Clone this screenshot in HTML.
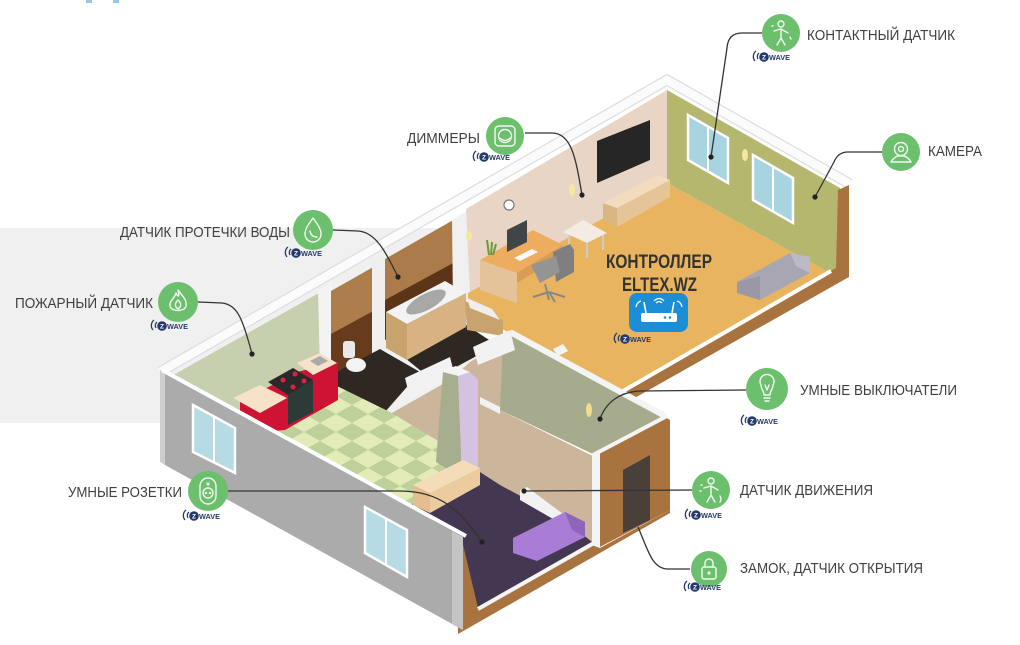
<!DOCTYPE html>
<html><head><meta charset="utf-8"><style>
html,body{margin:0;padding:0;background:#fff;}
svg{display:block;}
text{font-family:"Liberation Sans","DejaVu Sans",sans-serif;}
</style></head><body>
<svg width="1020" height="645" viewBox="0 0 1020 645" xmlns="http://www.w3.org/2000/svg">
<defs>
<pattern id="tiles" width="32" height="18" patternUnits="userSpaceOnUse">
<rect width="32" height="18" fill="#bfd19a"/>
<polygon points="16,0 32,9 16,18 0,9" fill="#e3ebb9"/>
</pattern>
</defs>
<rect width="1020" height="645" fill="#fff"/>
<rect x="0" y="228" width="480" height="195" fill="#f0f0f0"/>
<rect x="86" y="0" width="6" height="3" fill="#9cc3ea"/>
<rect x="113" y="0" width="6" height="3" fill="#9cc3ea"/>

<!-- main wall cap -->
<polyline points="160,372 667,80 850,184" fill="none" stroke="#dedede" stroke-width="11" stroke-linejoin="miter"/>
<polyline points="160,372 667,80 850,184" fill="none" stroke="#fbfbfb" stroke-width="8.5" stroke-linejoin="miter"/>

<!-- kitchen wall -->
<polygon points="168,378 326,289 332,370 250,420 168,382" fill="#c6cfae"/>
<polygon points="318,290 332,284 334,366 320,372" fill="#f3f3f3"/>

<!-- bathroom walls -->
<polygon points="331,291 375,266 375,352 331,378" fill="#ad7d4c"/>
<polygon points="331,334 375,310 375,352 331,378" fill="#673c1d"/>
<polygon points="372,263 386,257 386,352 372,358" fill="#efefef"/>
<polygon points="385,259 455,219 455,302 385,335" fill="#ac7b4a"/>
<polygon points="385,300 455,262 455,302 385,340" fill="#5c3519"/>
<polygon points="452,220 467,211 469,300 453,302" fill="#f0f0f0"/>

<!-- living room walls -->
<polygon points="466,209 667,90 667,183 470,293" fill="#e9d5c6"/>
<polygon points="667,90 840,188 840,268 828,272 667,183" fill="#b4b76d"/>
<polygon points="688,115 728,138 728,183 688,160" fill="#a8d4e0" stroke="#fff" stroke-width="2.5"/>
<line x1="708" y1="126" x2="708" y2="171" stroke="#fff" stroke-width="2"/>
<polygon points="753,155 793,178 793,223 753,200" fill="#a8d4e0" stroke="#fff" stroke-width="2.5"/>
<line x1="773" y1="166" x2="773" y2="211" stroke="#fff" stroke-width="2"/>
<polygon points="597,141 650,120 650,160 597,183" fill="#262626"/>
<circle cx="509" cy="205" r="5" fill="#fff" stroke="#777" stroke-width="1.2"/>
<ellipse cx="572" cy="190" rx="3" ry="6" fill="#f6e7a0"/>
<ellipse cx="469" cy="236" rx="3" ry="5" fill="#f6e7a0"/>
<ellipse cx="745" cy="155" rx="3" ry="6" fill="#f6e7a0"/>

<!-- brown right band + orange floor -->
<polygon points="838,190 849,185 849,277 624,404 614,396 836,268" fill="#a8733f"/>
<polygon points="468,293 667,183 828,272 620,393 513,335 468,310" fill="#e9b45f"/>
<line x1="831" y1="271" x2="618" y2="394" stroke="#fff" stroke-width="4"/>

<!-- bathroom floor / bath -->
<polygon points="333,374 380,349 420,372 385,412 333,388" fill="#2f2722"/>
<polygon points="405,358 466,325 497,345 432,380" fill="#2f2722"/>
<polygon points="386,312 407,324 407,360 386,348" fill="#c9a36e"/>
<polygon points="407,324 466,293 466,327 407,360" fill="#d7b384"/>
<polygon points="386,312 445,281 466,293 407,324" fill="#f3f3f3"/>
<ellipse cx="426" cy="302" rx="22" ry="8" transform="rotate(-28 426 302)" fill="#a8a8a8"/>
<polygon points="465,301 503,320 503,336 467,330" fill="#c9a36e"/>
<polygon points="467,298 492,309 500,320 470,308" fill="#eee"/>
<ellipse cx="356" cy="365" rx="10" ry="7" fill="#f4f4f4"/>
<rect x="343" y="341" width="12" height="17" rx="3" fill="#e9e9e9"/>

<!-- hallway floor -->
<polygon points="383,418 450,380 470,362 505,342 500,410 597,458 598,548 590,543 520,500 470,470 430,490 383,440" fill="#cbb59b"/>
<polygon points="503,340 512,333 665,416 595,455 500,410" fill="#a5ab8c"/>
<line x1="510" y1="332" x2="665" y2="416" stroke="#f4f4f4" stroke-width="6"/>
<polygon points="553,349 563,344 568,351 558,356" fill="#f4f4f4"/>
<ellipse cx="589" cy="410" rx="3" ry="7" fill="#f1dc8a"/>
<polygon points="405,378 450,357 455,377 410,398" fill="#f2f2f2"/>
<polygon points="473,347 510,330 515,350 478,365" fill="#f2f2f2"/>
<polygon points="405,425 440,443 440,452 405,434" fill="#f2f2f2"/>
<polygon points="480,397 500,407 500,414 480,404" fill="#f2f2f2"/>

<!-- kitchen tiles -->
<polygon points="240,420 335,385 390,412 470,460 430,520 240,432" fill="url(#tiles)"/>

<!-- kitchen counters -->
<polygon points="240,402 297,372 338,362 338,400 285,430 262,432 240,418" fill="#cf1335"/>
<polygon points="233,398 260,385 287,398 260,413" fill="#f6e2c9"/>
<polygon points="268,382 293,368 313,380 288,395" fill="#2a2a2a"/>
<circle cx="283" cy="380" r="2.5" fill="#e02040"/><circle cx="295" cy="374" r="2.5" fill="#e02040"/>
<circle cx="293" cy="387" r="2.5" fill="#e02040"/><circle cx="304" cy="381" r="2.5" fill="#e02040"/>
<polygon points="288,395 313,380 313,412 288,425" fill="#2d3b38"/>
<polygon points="297,363 320,353 337,363 313,375" fill="#f6e2c9"/>
<polygon points="310,361 320,356 328,361 318,366" fill="#aaa"/>

<!-- partition pillar -->
<polygon points="443,372 458,376 462,478 436,462" fill="#a7ad8f"/>
<polygon points="458,376 470,372 478,380 478,475 462,478" fill="#d3c2e0"/>
<polygon points="443,370 456,366 470,372 458,376" fill="#f4f4f4"/>

<!-- lower right brown, door wall -->
<polygon points="456,538 470,535 480,608 592,545 600,548 670,510 670,513 458,634" fill="#a8733f"/>
<polygon points="595,455 665,417 670,420 670,510 598,548" fill="#a8733f"/>
<polygon points="623,470 650,455 650,520 623,533" fill="#4a403a"/>
<line x1="593" y1="455" x2="667" y2="416" stroke="#f4f4f4" stroke-width="4"/>
<polygon points="592,455 600,452 600,548 592,545" fill="#f4f4f4"/>

<!-- bedroom -->
<polygon points="410,505 480,472 500,485 565,520 592,542 478,608 462,540" fill="#433752"/>
<line x1="478" y1="609" x2="594" y2="543" stroke="#f4f4f4" stroke-width="4"/>
<polygon points="520,490 527,487 567,517 567,527 520,500" fill="#f2f2f2"/>
<polygon points="413,485 430,493 430,513 413,505" fill="#e4be8d"/>
<polygon points="430,493 480,468 480,485 430,513" fill="#eccb9f"/>
<polygon points="413,485 463,460 480,468 430,493" fill="#f4dcb8"/>
<polygon points="513,538 565,512 585,522 585,537 537,561 513,553" fill="#a97cd6"/>
<polygon points="565,512 585,522 585,537 572,530" fill="#8c66b8"/>

<!-- front gray wall -->
<polygon points="165,372 463,537 463,630 165,465" fill="#ababab"/>
<polygon points="452,531 463,537 463,630 452,624" fill="#c4c4c4"/>
<polygon points="160,370 165,372 165,465 160,462" fill="#cfcfcf"/>
<line x1="162" y1="370" x2="466" y2="536" stroke="#fff" stroke-width="4"/>
<polygon points="193,405 235,428 235,473 193,452" fill="#b6dbe5" stroke="#fff" stroke-width="2.5"/>
<line x1="214" y1="416" x2="214" y2="462" stroke="#fff" stroke-width="2"/>
<polygon points="365,507 407,530 407,577 365,553" fill="#b6dbe5" stroke="#fff" stroke-width="2.5"/>
<line x1="386" y1="518" x2="386" y2="565" stroke="#fff" stroke-width="2"/>

<!-- living furniture -->
<polygon points="603,203 617,208 617,227 603,220" fill="#d9b582"/>
<polygon points="617,208 670,180 670,197 617,227" fill="#e5c597"/>
<polygon points="603,203 657,175 670,180 617,208" fill="#f2dcbd"/>
<polygon points="480,260 517,273 517,303 480,290" fill="#e4c39a"/>
<polygon points="517,273 563,245 563,255 517,283" fill="#d89d55"/>
<polygon points="480,260 533,230 563,245 517,273" fill="#eeac60"/>
<polygon points="507,230 527,220 527,242 507,252" fill="#404548"/>
<polygon points="514,258 532,249 538,252 520,261" fill="#fafafa"/>
<path d="M489,255 L487,240 M491,255 L492,242 M493,255 L496,244" stroke="#6b9b3a" stroke-width="2"/>
<polygon points="563,232 583,220 607,233 587,243" fill="#f4ece4"/>
<line x1="569" y1="235" x2="569" y2="252" stroke="#ccc" stroke-width="2"/>
<line x1="603" y1="235" x2="603" y2="250" stroke="#ccc" stroke-width="2"/>
<line x1="587" y1="243" x2="587" y2="258" stroke="#ccc" stroke-width="2"/>
<polygon points="553,252 570,244 574,250 574,272 556,282" fill="#7f7f7f"/>
<polygon points="531,265 556,256 560,272 540,283" fill="#949494"/>
<path d="M545,284 L549,300 M549,292 L533,297 M549,292 L565,297 M549,292 L555,302" stroke="#888" stroke-width="2" fill="none"/>
<polygon points="737,282 790,253 810,257 810,273 760,300 737,293" fill="#a9a6b3"/>
<polygon points="790,253 810,257 810,273 796,266" fill="#bdbac7"/>
<polygon points="737,282 760,276 760,300 737,293" fill="#9b98a6"/>

<!-- controller -->
<text x="606" y="268" font-size="19" font-weight="bold" fill="#333" textLength="106" lengthAdjust="spacingAndGlyphs">КОНТРОЛЛЕР</text>
<text x="622" y="291" font-size="19" font-weight="bold" fill="#333" textLength="75" lengthAdjust="spacingAndGlyphs">ELTEX.WZ</text>
<rect x="629" y="293" width="59" height="39" rx="8" fill="#1b8ed6"/>
<rect x="641" y="313" width="36" height="9" rx="2" fill="#fff"/>
<line x1="646" y1="313" x2="644" y2="302" stroke="#fff" stroke-width="1.6"/>
<line x1="672" y1="313" x2="674" y2="302" stroke="#fff" stroke-width="1.6"/>
<circle cx="665" cy="317.5" r="1.3" fill="#1b8ed6"/><circle cx="670" cy="317.5" r="1.3" fill="#1b8ed6"/>
<path d="M654,301 Q659,296 664,301 M656,303 Q659,300 662,303" stroke="#fff" stroke-width="1.2" fill="none"/>
<path d="M636,307 Q637,302 641,301 M682,307 Q681,302 677,301" stroke="#fff" stroke-width="1.2" fill="none"/>

<!-- connectors -->
<g fill="none" stroke="#333" stroke-width="1.3">
<path d="M762,33 L742,33 Q728,33 727,48 L711,157"/>
<path d="M882,152 L848,152 Q838,152 834,162 L815,197"/>
<path d="M525,133 L552,133 C572,133 576,160 582,195"/>
<path d="M333,230 L358,231 C375,232 385,250 398,277"/>
<path d="M198,302 L222,303 C238,305 243,320 252,354"/>
<path d="M228,491 L400,491 C440,491 460,510 482,542"/>
<path d="M746,390 L640,391 C620,392 606,402 600,419"/>
<path d="M692,490 L524,491"/>
<path d="M690,569 L668,569 C652,569 648,550 638,527"/>
</g>
<g fill="#222">
<circle cx="711" cy="157" r="2.6"/><circle cx="815" cy="197" r="2.6"/><circle cx="582" cy="195" r="2.6"/>
<circle cx="398" cy="277" r="2.6"/><circle cx="252" cy="354" r="2.6"/><circle cx="482" cy="542" r="2.6"/>
<circle cx="600" cy="419" r="2.6"/><circle cx="524" cy="491" r="2.6"/>
</g>

<!-- icons -->
<g fill="#6cbf6d">
<circle cx="781" cy="33" r="19"/><circle cx="901" cy="152" r="19"/><circle cx="505" cy="136" r="19"/>
<circle cx="313" cy="230" r="20"/><circle cx="178" cy="302" r="20"/><circle cx="208" cy="491" r="20"/>
<circle cx="767" cy="389" r="21"/><circle cx="711" cy="490" r="19"/><circle cx="709" cy="569" r="18"/>
</g>
<g fill="none" stroke="#fff" stroke-width="1.4" stroke-linecap="round" stroke-linejoin="round" opacity="0.9">
<g transform="translate(781,34)"><circle cx="0" cy="-10" r="3"/><path d="M-7,-3 L0,-5 L7,-1 M0,-5 L0,4 L-4,11 M0,4 L4,11 M-9,-8 L-8,-8 M9,3 L10,5"/></g>
<g transform="translate(901,152)"><circle cx="0" cy="-3" r="6.5"/><circle cx="0" cy="-3" r="2.5"/><path d="M-10,10 Q-6,3 0,4 Q6,3 10,10 Z"/></g>
<g transform="translate(505,136)"><rect x="-10" y="-10" width="20" height="20" rx="4"/><circle cx="0" cy="0" r="6.5"/><path d="M-5,2 Q0,7 5,2"/></g>
<g transform="translate(313,230)"><path d="M0,-12 C5,-5 8,-1 8,4 A8,8 0 0 1 -8,4 C-8,-1 -5,-5 0,-12Z"/><path d="M-3,1 Q-2,7 4,7"/></g>
<g transform="translate(178,302)"><path d="M0,-12 C4,-6 9,-3 8,4 C7,10 -7,10 -8,4 C-9,-1 -3,-4 -2,-9 C0,-5 2,-4 0,-12Z"/><path d="M0,-2 C3,1 4,4 0,7 C-4,4 -3,1 0,-2Z"/></g>
<g transform="translate(208,491)"><rect x="-8" y="-13" width="16" height="26" rx="8"/><circle cx="0" cy="2" r="5"/><circle cx="-2" cy="2" r="0.6"/><circle cx="2" cy="2" r="0.6"/><circle cx="0" cy="-7" r="1"/></g>
<g transform="translate(767,388)"><path d="M-6,-3 A7,7 0 1 1 6,-3 C6,1 3,3 3,7 L-3,7 C-3,3 -6,1 -6,-3Z"/><path d="M-3,10 L3,10 M-2,13 L2,13 M-2,-3 L0,2 L2,-3"/></g>
<g transform="translate(711,491)"><circle cx="0" cy="-10" r="3"/><path d="M-7,-3 L0,-5 L7,-1 M0,-5 L0,4 L-4,11 M0,4 L4,11 M-10,-6 L-9,-6 M-11,0 L-10,0 M9,5 Q11,8 9,11"/></g>
<g transform="translate(709,569)"><rect x="-7" y="-2" width="14" height="12" rx="2"/><path d="M-4,-2 V-6 A4,4 0 0 1 4,-6 V-2"/><circle cx="0" cy="4" r="1"/></g>
</g>

<!-- zwave badges -->
<g>
<g transform="translate(752,49)"><path d="M4,2 A7,7 0 0 0 3,12" stroke="#233a6b" stroke-width="1.3" fill="none"/><path d="M7,4 A4.5,4.5 0 0 0 6,10" stroke="#233a6b" stroke-width="1.3" fill="none"/><circle cx="12" cy="8" r="4.8" fill="#233a6b"/><text x="12" y="10.5" font-size="6.5" font-weight="bold" fill="#fff" text-anchor="middle">Z</text><text x="17" y="11" font-size="7.5" font-weight="bold" fill="#233a6b" textLength="21" lengthAdjust="spacingAndGlyphs">WAVE</text></g>
<g transform="translate(472,149)"><path d="M4,2 A7,7 0 0 0 3,12" stroke="#233a6b" stroke-width="1.3" fill="none"/><path d="M7,4 A4.5,4.5 0 0 0 6,10" stroke="#233a6b" stroke-width="1.3" fill="none"/><circle cx="12" cy="8" r="4.8" fill="#233a6b"/><text x="12" y="10.5" font-size="6.5" font-weight="bold" fill="#fff" text-anchor="middle">Z</text><text x="17" y="11" font-size="7.5" font-weight="bold" fill="#233a6b" textLength="21" lengthAdjust="spacingAndGlyphs">WAVE</text></g>
<g transform="translate(284,245)"><path d="M4,2 A7,7 0 0 0 3,12" stroke="#233a6b" stroke-width="1.3" fill="none"/><path d="M7,4 A4.5,4.5 0 0 0 6,10" stroke="#233a6b" stroke-width="1.3" fill="none"/><circle cx="12" cy="8" r="4.8" fill="#233a6b"/><text x="12" y="10.5" font-size="6.5" font-weight="bold" fill="#fff" text-anchor="middle">Z</text><text x="17" y="11" font-size="7.5" font-weight="bold" fill="#233a6b" textLength="21" lengthAdjust="spacingAndGlyphs">WAVE</text></g>
<g transform="translate(150,318)"><path d="M4,2 A7,7 0 0 0 3,12" stroke="#233a6b" stroke-width="1.3" fill="none"/><path d="M7,4 A4.5,4.5 0 0 0 6,10" stroke="#233a6b" stroke-width="1.3" fill="none"/><circle cx="12" cy="8" r="4.8" fill="#233a6b"/><text x="12" y="10.5" font-size="6.5" font-weight="bold" fill="#fff" text-anchor="middle">Z</text><text x="17" y="11" font-size="7.5" font-weight="bold" fill="#233a6b" textLength="21" lengthAdjust="spacingAndGlyphs">WAVE</text></g>
<g transform="translate(182,508)"><path d="M4,2 A7,7 0 0 0 3,12" stroke="#233a6b" stroke-width="1.3" fill="none"/><path d="M7,4 A4.5,4.5 0 0 0 6,10" stroke="#233a6b" stroke-width="1.3" fill="none"/><circle cx="12" cy="8" r="4.8" fill="#233a6b"/><text x="12" y="10.5" font-size="6.5" font-weight="bold" fill="#fff" text-anchor="middle">Z</text><text x="17" y="11" font-size="7.5" font-weight="bold" fill="#233a6b" textLength="21" lengthAdjust="spacingAndGlyphs">WAVE</text></g>
<g transform="translate(740,413)"><path d="M4,2 A7,7 0 0 0 3,12" stroke="#233a6b" stroke-width="1.3" fill="none"/><path d="M7,4 A4.5,4.5 0 0 0 6,10" stroke="#233a6b" stroke-width="1.3" fill="none"/><circle cx="12" cy="8" r="4.8" fill="#233a6b"/><text x="12" y="10.5" font-size="6.5" font-weight="bold" fill="#fff" text-anchor="middle">Z</text><text x="17" y="11" font-size="7.5" font-weight="bold" fill="#233a6b" textLength="21" lengthAdjust="spacingAndGlyphs">WAVE</text></g>
<g transform="translate(684,507)"><path d="M4,2 A7,7 0 0 0 3,12" stroke="#233a6b" stroke-width="1.3" fill="none"/><path d="M7,4 A4.5,4.5 0 0 0 6,10" stroke="#233a6b" stroke-width="1.3" fill="none"/><circle cx="12" cy="8" r="4.8" fill="#233a6b"/><text x="12" y="10.5" font-size="6.5" font-weight="bold" fill="#fff" text-anchor="middle">Z</text><text x="17" y="11" font-size="7.5" font-weight="bold" fill="#233a6b" textLength="21" lengthAdjust="spacingAndGlyphs">WAVE</text></g>
<g transform="translate(683,579)"><path d="M4,2 A7,7 0 0 0 3,12" stroke="#233a6b" stroke-width="1.3" fill="none"/><path d="M7,4 A4.5,4.5 0 0 0 6,10" stroke="#233a6b" stroke-width="1.3" fill="none"/><circle cx="12" cy="8" r="4.8" fill="#233a6b"/><text x="12" y="10.5" font-size="6.5" font-weight="bold" fill="#fff" text-anchor="middle">Z</text><text x="17" y="11" font-size="7.5" font-weight="bold" fill="#233a6b" textLength="21" lengthAdjust="spacingAndGlyphs">WAVE</text></g>
<g transform="translate(613,331)"><path d="M4,2 A7,7 0 0 0 3,12" stroke="#233a6b" stroke-width="1.3" fill="none"/><path d="M7,4 A4.5,4.5 0 0 0 6,10" stroke="#233a6b" stroke-width="1.3" fill="none"/><circle cx="12" cy="8" r="4.8" fill="#233a6b"/><text x="12" y="10.5" font-size="6.5" font-weight="bold" fill="#fff" text-anchor="middle">Z</text><text x="17" y="11" font-size="7.5" font-weight="bold" fill="#233a6b" textLength="21" lengthAdjust="spacingAndGlyphs">WAVE</text></g>
</g>

<!-- labels -->
<g font-size="15" fill="#404040">
<text x="807" y="40" textLength="148" lengthAdjust="spacingAndGlyphs">КОНТАКТНЫЙ ДАТЧИК</text>
<text x="928" y="156" textLength="54" lengthAdjust="spacingAndGlyphs">КАМЕРА</text>
<text x="407" y="143" textLength="73" lengthAdjust="spacingAndGlyphs">ДИММЕРЫ</text>
<text x="120" y="237" textLength="170" lengthAdjust="spacingAndGlyphs">ДАТЧИК ПРОТЕЧКИ ВОДЫ</text>
<text x="15" y="308" textLength="138" lengthAdjust="spacingAndGlyphs">ПОЖАРНЫЙ ДАТЧИК</text>
<text x="68" y="497" textLength="114" lengthAdjust="spacingAndGlyphs">УМНЫЕ РОЗЕТКИ</text>
<text x="800" y="395" textLength="157" lengthAdjust="spacingAndGlyphs">УМНЫЕ ВЫКЛЮЧАТЕЛИ</text>
<text x="740" y="495" textLength="133" lengthAdjust="spacingAndGlyphs">ДАТЧИК ДВИЖЕНИЯ</text>
<text x="740" y="573" textLength="183" lengthAdjust="spacingAndGlyphs">ЗАМОК, ДАТЧИК ОТКРЫТИЯ</text>
</g>
</svg>
</body></html>
